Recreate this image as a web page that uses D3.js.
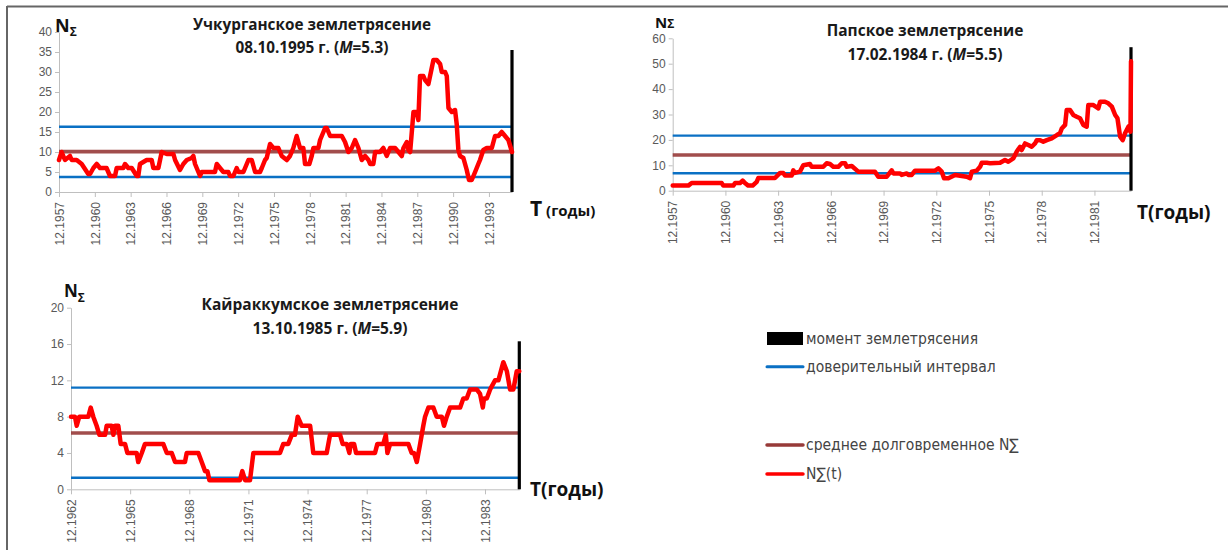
<!DOCTYPE html>
<html><head><meta charset="utf-8">
<script src="https://cdn.jsdelivr.net/npm/d3@7"></script>
<style>
body{margin:0;background:#fff;}
svg{display:block;}
</style></head>
<body>
<script>
// ---------- Data: Учкурганское землетрясение ----------
const ukT = [1957.92,1958.14,1958.42,1958.84,1958.98,1959.40,1959.82,1960.37,1960.52,1960.80,1961.08,1961.35,1961.90,1962.19,1962.61,1962.75,1963.30,1963.45,1963.72,1964.01,1964.43,1964.56,1964.70,1965.26,1965.68,1965.82,1966.24,1966.52,1966.94,1967.50,1967.64,1968.05,1968.33,1968.62,1969.03,1969.17,1969.31,1969.73,1969.87,1970.98,1971.13,1971.40,1971.68,1972.10,1972.24,1972.52,1972.80,1972.94,1973.36,1973.64,1973.78,1974.06,1974.34,1974.75,1974.90,1975.17,1975.31,1975.59,1975.87,1976.29,1976.57,1976.99,1977.26,1977.54,1977.82,
  1978.10,1978.38,1978.52,1978.88,1979.08,1979.22,1979.64,1979.78,1980.20,1980.34,1980.62,1980.90,1981.60,1981.87,1982.15,1982.43,1982.71,1982.99,1983.27,1983.55,1983.83,1983.97,1984.24,1984.39,1984.80,1985.08,1985.36,1985.64,1986.06,1986.34,1986.62,1986.76,1987.04,1987.18,1987.32,1987.46,1987.60,1987.88,1988.01,1988.15,1988.43,1988.57,1988.85,1988.99,1989.13,1989.27,1989.55,1989.83,1989.97,1990.25,1990.39,1990.53,1990.81,1991.08,1991.22,1991.36,1991.50,1991.78,1992.06,1992.25,1992.48,1992.76,1993.03,1993.17,1993.45,1993.74,1994.16,1994.43,1994.71,1994.99,1995.27,1995.55,1995.85];
const ukN = [8,10,8,9,8,8,7,4.5,4.5,6,7,6,6,4,4,6,6,7,6,6,4,4,7,8,8,6,6,10,9.5,9.5,8,5.5,7,8,8.5,9,7,4,5,5,7,6,5,5,4,4,6,5,5,7,8,8,5,5,6,8,8.5,12,11,11,9,8,9,11,14,
  11,11,7,7,9,11,11,13,16,16,14,14,14,12.5,10,11,13,11,8,9,8,7,7,10,10,11,9,11,11,10,9,11,12.5,10.5,10,15,20,20,18,29,29,28,27,29,31,33,33,32,30,30,29,21,20,20.5,17,10.5,9,8.5,5.5,3,3,5,7,8,10.5,11,11,14,14,15,14,13,10];
const ukTickLabels = ["12.1957","12.1960","12.1963","12.1966","12.1969","12.1972","12.1975","12.1978","12.1981","12.1984","12.1987","12.1990","12.1993"];
const ukYTicks = [0,5,10,15,20,25,30,35,40];
const ukLevels = [3.75, 10.1, 16.3];   // нижняя граница, среднее, верхняя граница
const ukQuake = [1995.85, 35.5];        // момент землетрясения, высота линии

// ---------- Data: Папское землетрясение ----------
const papT = [1957.92,1958.81,1959.00,1960.71,1960.80,1961.37,1961.47,1961.75,1961.90,1962.03,1962.22,1962.47,1962.70,1962.79,1963.74,1964.03,1964.21,1964.31,1964.69,1964.78,1964.88,1965.16,1965.35,1965.73,1965.83,1966.49,1966.68,1966.87,1967.06,1967.34,1967.54,1967.73,1967.82,1968.11,1968.48,1969.43,1969.62,1970.10,1970.38,1970.48,1970.86,1970.95,1971.24,1971.33,1971.52,1971.71,1972.85,1973.04,1973.23,1973.36,1973.61,1973.99,1974.37,1974.65,1974.84,1974.94,1975.22,1975.41,1975.51,1975.79,1975.98,1976.55,1976.83,1977.02,1977.30,1977.50,1977.69,1977.78,1977.97,1978.16,1978.35,1978.54,1978.64,1978.83,1979.01,1979.21,1979.49,1979.78,1979.96,1980.06,1980.25,1980.34,1980.53,1980.72,1980.91,1981.10,1981.29,1981.48,1981.57,1981.86,1982.14,1982.24,1982.52,1982.71,1982.91,1983.10,1983.23,1983.38,1983.53,1983.66,1983.85,1983.97,1984.00];
const papN = [2,2,3,3,2,2,3,3,4,3,2,2,3.5,5,5,7,7,6,6,8,7,7.5,10,10.5,9.4,9.4,10.8,10.5,9.4,9.4,10.8,10.8,9.4,9.7,7.5,7.5,5.5,5.5,8,6.8,6.8,6.2,6.8,6.2,6.2,7.9,7.9,8.8,7.5,4.9,4.9,6.2,5.8,5.5,4.9,7.5,7.9,9.4,11,11,10.8,11,12.1,11.4,12.7,15.4,17.3,16,18.6,18,17.3,18.6,19.9,19.9,19.3,19.9,20.6,21.9,22.6,24.5,25.9,31.8,31.8,29.8,29.1,28.5,25.9,25.2,33.7,33.7,32.4,35,35,34.4,33.1,29.8,28.5,21.3,19.9,22.6,25.2,23.2,51];
const papTickLabels = ["12.1957","12.1960","12.1963","12.1966","12.1969","12.1972","12.1975","12.1978","12.1981"];
const papYTicks = [0,10,20,30,40,50,60];
const papLevels = [6.85, 14.05, 21.7];
const papQuake = [1984.0, 56.5];

// ---------- Data: Кайраккумское землетрясение ----------
const kaiT = [1962.92,1963.12,1963.21,1963.34,1963.80,1963.92,1964.05,1964.22,1964.36,1964.65,1964.73,1964.98,1965.07,1965.15,1965.32,1965.44,1965.66,1965.78,1966.25,1966.33,1966.51,1966.67,1967.60,1967.78,1968.03,1968.20,1968.70,1968.79,1969.38,1969.55,1969.72,1969.84,1969.94,1971.49,1971.61,1971.75,1972.00,1972.17,1973.52,1973.69,1973.94,1974.12,1974.28,1974.42,1974.62,1975.05,1975.21,1975.89,1976.06,1976.57,1976.70,1976.91,1977.04,1977.11,1977.28,1977.38,1978.34,1978.46,1978.76,1978.89,1978.97,1979.11,1980.03,1980.20,1980.32,1980.46,1980.63,1980.79,1980.88,1981.05,1981.30,1981.47,1981.73,1981.84,1981.98,1982.15,1982.66,1982.82,1982.99,1983.16,1983.50,1983.67,1983.81,1983.87,1984.01,1984.18,1984.43,1984.60,1984.85,1985.03,1985.19,1985.36,1985.53,1985.66];
const kaiN = [8,8,7,8,8,9,8,7,6,6,7,7,6,7,7,5,5,4,4,3,4,5,5,4,4,3,3,4,4,3,2,2,1,1,2,1,1,4,4,5,5,6,6,8,7,7,4,4,6,6,5,5,4,5,5,4,4,5,5,6,4,5,5,4,4,3,5,7,8,9,9,8,8,7,8,9,9,10,10,11,11,10.5,9,10,10,11,12,12,14,13,11,11,13,13];
const kaiTickLabels = ["12.1962","12.1965","12.1968","12.1971","12.1974","12.1977","12.1980","12.1983"];
const kaiYTicks = [0,4,8,12,16,20];
const kaiLevels = [1.28, 6.2, 11.2];
const kaiQuake = [1985.66, 16.3];

// ---------- Legend ----------
const legendLabels = ["момент землетрясения","доверительный интервал","среднее долговременное N∑","N∑(t)"];

// ---------- Drawing ----------
const W = 1228, H = 550;
const svg = d3.select("body").append("svg").attr("width", W).attr("height", H)
  .style("font-family","'Open Sans', 'Liberation Sans', sans-serif");
svg.append("rect").attr("width",W).attr("height",H).attr("fill","#fff");

// frame
svg.append("line").attr("x1",7).attr("x2",W).attr("y1",6.5).attr("y2",6.5).attr("stroke","#666").attr("stroke-width",2);
svg.append("line").attr("x1",7).attr("x2",7).attr("y1",6).attr("y2",H).attr("stroke","#666").attr("stroke-width",2);

const COL = {red:"#ff0000", blue:"#0a70c4", brown:"#973a38", black:"#000", axis:"#bfbfbf", tick:"#595959"};

const charts = [
  {T:ukT, N:ukN, labels:ukTickLabels, yTicks:ukYTicks, levels:ukLevels, quake:ukQuake, xr:[59,512], yr:[192,32], ymax:40},
  {T:papT, N:papN, labels:papTickLabels, yTicks:papYTicks, levels:papLevels, quake:papQuake, xr:[672.7,1131], yr:[190.7,38.3], ymax:60},
  {T:kaiT, N:kaiN, labels:kaiTickLabels, yTicks:kaiYTicks, levels:kaiLevels, quake:kaiQuake, xr:[71,519.3], yr:[489.3,307.7], ymax:20}
];

charts.forEach(c => {
  const x = d3.scaleLinear().domain([c.T[0], c.quake[0]]).range(c.xr);
  const y = d3.scaleLinear().domain([0, c.ymax]).range(c.yr);
  const g = svg.append("g");

  // y axis
  const ya = g.append("g").attr("transform",`translate(${c.xr[0]},0)`)
    .call(d3.axisLeft(y).tickValues(c.yTicks).tickSize(4).tickSizeOuter(0).tickFormat(d3.format("d")));
  ya.select(".domain").attr("stroke",COL.axis);
  ya.selectAll(".tick line").attr("stroke",COL.axis);
  ya.selectAll("text").attr("fill",COL.tick).style("font-size","12px").attr("x",-7);

  // x axis
  const tickYears = c.labels.map(l => +l.slice(3) + 0.92);
  const xa = g.append("g").attr("transform",`translate(0,${c.yr[0]})`)
    .call(d3.axisBottom(x).tickValues(tickYears).tickSize(5).tickSizeOuter(0)
      .tickFormat((d,i) => c.labels[i]));
  xa.select(".domain").attr("stroke",COL.axis);
  xa.selectAll(".tick line").attr("stroke",COL.axis);
  xa.selectAll("text").attr("fill",COL.tick).style("font-size","12px")
    .attr("transform","rotate(-90)").attr("x",-10).attr("y",0).attr("dy","0.35em")
    .style("text-anchor","end");

  // confidence interval and mean
  const [lo, mean, hi] = c.levels;
  [[lo,COL.blue,2.4,1],[hi,COL.blue,2.4,1],[mean,COL.brown,3.6,0.9]].forEach(([v,col,w,op]) => {
    g.append("line").attr("x1",c.xr[0]).attr("x2",x(c.quake[0]))
      .attr("y1",y(v)).attr("y2",y(v)).attr("stroke",col).attr("stroke-width",w).attr("stroke-opacity",op);
  });

  // earthquake moment
  g.append("line").attr("x1",x(c.quake[0])).attr("x2",x(c.quake[0]))
    .attr("y1",y(0)).attr("y2",y(c.quake[1])).attr("stroke",COL.black).attr("stroke-width",3.2);

  // N(t)
  const line = d3.line().x((d,i) => x(c.T[i])).y(d => y(d));
  g.append("path").datum(c.N).attr("d",line).attr("fill","none")
    .attr("stroke",COL.red).attr("stroke-width",4.5).attr("stroke-linejoin","round").attr("stroke-linecap","round");
});

// ---------- Titles ----------
function title(cx, y1, y2, name, date, mag, fs) {
  const t = svg.append("g").attr("font-weight","bold").attr("fill","#1a1a1a").style("font-size",fs+"px").attr("text-anchor","middle");
  t.append("text").attr("x",cx).attr("y",y1).text(name);
  const l2 = t.append("text").attr("x",cx).attr("y",y2);
  l2.append("tspan").text(date + " г. (");
  l2.append("tspan").attr("font-style","italic").text("M");
  l2.append("tspan").text("=" + mag + ")");
}
title(312, 30, 53, "Учкурганское землетрясение", "08.10.1995", "5.3", 15.3);
title(925, 35.5, 59.5, "Папское землетрясение", "17.02.1984", "5.5", 15.5);
title(330, 310, 333.5, "Кайраккумское землетрясение", "13.10.1985", "5.9", 15.5);

// ---------- Axis names ----------
function nLabel(x, y, fsN, fsS, sub) {
  const t = svg.append("text").attr("x",x).attr("y",y).attr("font-weight","bold").attr("fill","#111");
  t.append("tspan").style("font-size",fsN+"px").text("N");
  t.append("tspan").style("font-size",fsS+"px").attr("dy",sub).text("Σ");
}
nLabel(55, 32, 18, 12, 4);
nLabel(655, 28, 15, 12, 0);
nLabel(64, 297, 17, 12, 5);

const tl1 = svg.append("text").attr("x",530).attr("y",215.5).attr("font-weight","bold").attr("fill","#111");
tl1.append("tspan").style("font-size","21px").text("T");
tl1.append("tspan").style("font-size","15px").text(" (годы)");
svg.append("text").attr("x",1137).attr("y",219).attr("font-weight","bold").attr("fill","#111").style("font-size","19px").text("T(годы)");
svg.append("text").attr("x",530).attr("y",496).attr("font-weight","bold").attr("fill","#111").style("font-size","19px").text("T(годы)");

// ---------- Legend ----------
const lg = svg.append("g").style("font-family","'Liberation Sans Narrow','DejaVu Sans Condensed',sans-serif");
const legRows = [
  {y:338.5, col:COL.black, w:13},
  {y:366.7, col:COL.blue, w:3},
  {y:445, col:COL.brown, w:3.5},
  {y:474, col:COL.red, w:3.5}
];
legRows.forEach((r,i) => {
  lg.append("line").attr("x1",767).attr("x2",803).attr("y1",r.y).attr("y2",r.y)
    .attr("stroke",r.col).attr("stroke-width",r.w).attr("stroke-linecap", i===0 ? "butt" : "round");
  lg.append("text").attr("x",806).attr("y",r.y).attr("dy","0.35em").attr("fill","#444")
    .style("font-size","15.5px").text(legendLabels[i]);
});
</script>
</body></html>
